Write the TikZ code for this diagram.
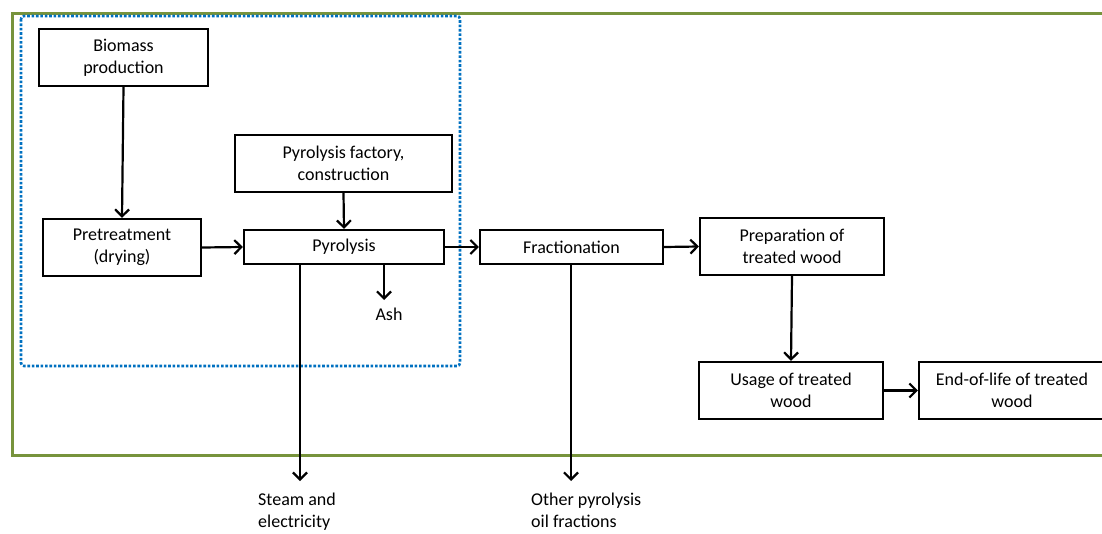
\documentclass[tikz,border=0pt]{standalone}
\usepackage{fontspec}
\setmainfont{Carlito}
\usetikzlibrary{arrows.meta}
\definecolor{grn}{RGB}{119,147,60}
\definecolor{blu}{RGB}{0,112,192}
\begin{document}
\begin{tikzpicture}[x=1pt,y=-1pt,
  box/.style={draw=black,line width=2.2pt,inner sep=0pt,align=center,
    font=\fontsize{18}{22}\selectfont},
  lbl/.style={inner sep=0pt,font=\fontsize{18}{22}\selectfont},
  arr/.style={line width=2.2pt,-{Straight Barb[length=7pt,width=14pt,line width=2.2pt]}},
  sysbound/.style={draw=grn,line width=3pt},
  subbound/.style={draw=blu,line width=2.6pt,dash pattern=on 2.6pt off 1.8pt,rounded corners=3pt}]
\useasboundingbox (0,0) rectangle (1102,533);
\clip (0,0) rectangle (1102,533);
% boundaries
\draw[sysbound] (12,13) rectangle (1115,455);
\draw[subbound] (21,16) rectangle (460,366);
% boxes
\node[box,minimum width=169pt,minimum height=57pt] (bio) at (123.5,57.5) {Biomass\\production};
\node[box,minimum width=158pt,minimum height=57pt] (pre) at (122,247.5) {Pretreatment\\(drying)};
\node[box,minimum width=217pt,minimum height=57pt] (fac) at (343.5,163.5) {Pyrolysis factory,\\construction};
\node[box,minimum width=200pt,minimum height=34pt] (pyr) at (344,247) {Pyrolysis};
\node[box,minimum width=183pt,minimum height=34pt] (frac) at (571.5,247) {Fractionation};
\node[box,minimum width=184pt,minimum height=57pt] (prep) at (792,246.5) {Preparation of\\treated wood};
\node[box,minimum width=184pt,minimum height=57pt] (use) at (791,390.5) {Usage of treated\\wood};
\node[box,minimum width=186pt,minimum height=57pt] (eol) at (1012,390.5) {End-of-life of treated\\wood};
% free labels
\node[lbl] (ash) at (389,314) {Ash};
\node[lbl,align=left,anchor=north west] (steam) at (258,493) {Steam and\\electricity};
\node[lbl,align=left,anchor=north west] (oil) at (531,493) {Other pyrolysis\\oil fractions};
\coordinate (ashend) at (384,300);
\coordinate (steamend) at (300,481);
\coordinate (oilend) at (571,481);
% connectors
\draw[arr] (bio.south) -- (pre.north);
\draw[arr] (pre.east) -- (pyr.west);
\draw[arr] (fac.south) -- (pyr.north);
\draw[arr] (pyr.east) -- (frac.west);
\draw[arr] (pyr.south -| ashend) -- (ashend);
\draw[arr] (pyr.south -| steamend) -- (steamend);
\draw[arr] (frac.south -| oilend) -- (oilend);
\draw[arr] (frac.east) -- (prep.west);
\draw[arr] (prep.south) -- (use.north);
\draw[arr] (use.east) -- (eol.west);
\end{tikzpicture}
\end{document}
